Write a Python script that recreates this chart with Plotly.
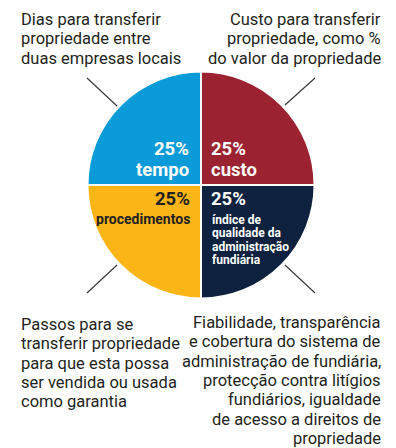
import plotly.graph_objects as go

# slices, clockwise from 12 o'clock
labels = ["custo", "índice de qualidade da administração fundiária", "procedimentos", "tempo"]
values = [25, 25, 25, 25]
colors = ["#9b2230", "#0e213e", "#fbb517", "#0a9bd8"]
pct_text = ["25%", "25%", "25%", "25%"]
indice_lines = ["índice de", "qualidade da", "administração", "fundiária"]

desc_tempo = ["Dias para transferir", "propriedade entre", "duas empresas locais"]
desc_custo = ["Custo para transferir", "propriedade, como %", "do valor da propriedade"]
desc_proc = ["Passos para se", "transferir propriedade", "para que esta possa",
             "ser vendida ou usada", "como garantia"]
desc_indice = ["Fiabilidade, transparência", "e cobertura do sistema de",
               "administração de fundiária,", "protecção contra litígios",
               "fundiários, igualdade", "de acesso a direitos de", "propriedade"]

# the page body adds an 8px margin, so the figure is drawn 8px in from the corner
OFF = 8
W, H = 396 - OFF, 448 - OFF
FONT = "Roboto, sans-serif"
DARK = "#231f20"


def px(x):
    return (x - OFF) / W


def py(y):
    return 1 - (y - OFF) / H


cx, cy, r = 201, 185, 113.5

fig = go.Figure(go.Pie(
    labels=labels, values=values, sort=False, direction="clockwise", rotation=0,
    marker=dict(colors=colors, line=dict(color="white", width=2)),
    textinfo="none", hoverinfo="label+percent", showlegend=False,
    domain=dict(x=[px(cx - r), px(cx + r)], y=[py(cy + r), py(cy - r)]),
))

ann = []


def block(lines, x, y0, step, anchor, size=16.5, color=DARK, bold=False):
    for i, t in enumerate(lines):
        txt = "<b>%s</b>" % t if bold else t
        ann.append(dict(text=txt, x=px(x), y=py(y0 + i * step), xref="paper", yref="paper",
                        xanchor=anchor, yanchor="middle", showarrow=False,
                        height=int(step) - 1, valign="middle",
                        font=dict(family=FONT, size=size, color=color)))


# outer descriptions
block(desc_tempo, 19, 19, 19.3, "left")
block(desc_custo, 383, 19, 19.3, "right")
block(desc_proc, 19, 324, 19.3, "left")
block(desc_indice, 383, 322, 19.3, "right")

# inner labels
block([pct_text[3], labels[3]], 191, 149, 21, "right", size=18.5, color="white", bold=True)
block([pct_text[0], labels[0]], 209, 149, 21, "left", size=18.5, color="white", bold=True)
block([pct_text[2]], 192, 199, 19, "right", size=18.5, color=DARK, bold=True)
block([labels[2]], 192, 218, 16, "right", size=14, color=DARK, bold=True)
block([pct_text[1]], 209, 199, 19, "left", size=18.5, color="white", bold=True)
block(indice_lines, 210, 220, 13.3, "left", size=12, color="white", bold=True)

# leader lines
leaders = [((87, 78), (117, 106)), ((315, 78), (285, 105)),
           ((117, 265), (87, 293)), ((285, 265), (315, 293))]
shapes = [dict(type="line", xref="paper", yref="paper",
               x0=px(a[0]), y0=py(a[1]), x1=px(b[0]), y1=py(b[1]),
               line=dict(color="#3a3a3a", width=1.2)) for a, b in leaders]

fig.update_layout(
    width=W, height=H, margin=dict(l=0, r=0, t=0, b=0),
    paper_bgcolor="white", plot_bgcolor="white",
    annotations=ann, shapes=shapes,
)

fig.write_html("out.html")
